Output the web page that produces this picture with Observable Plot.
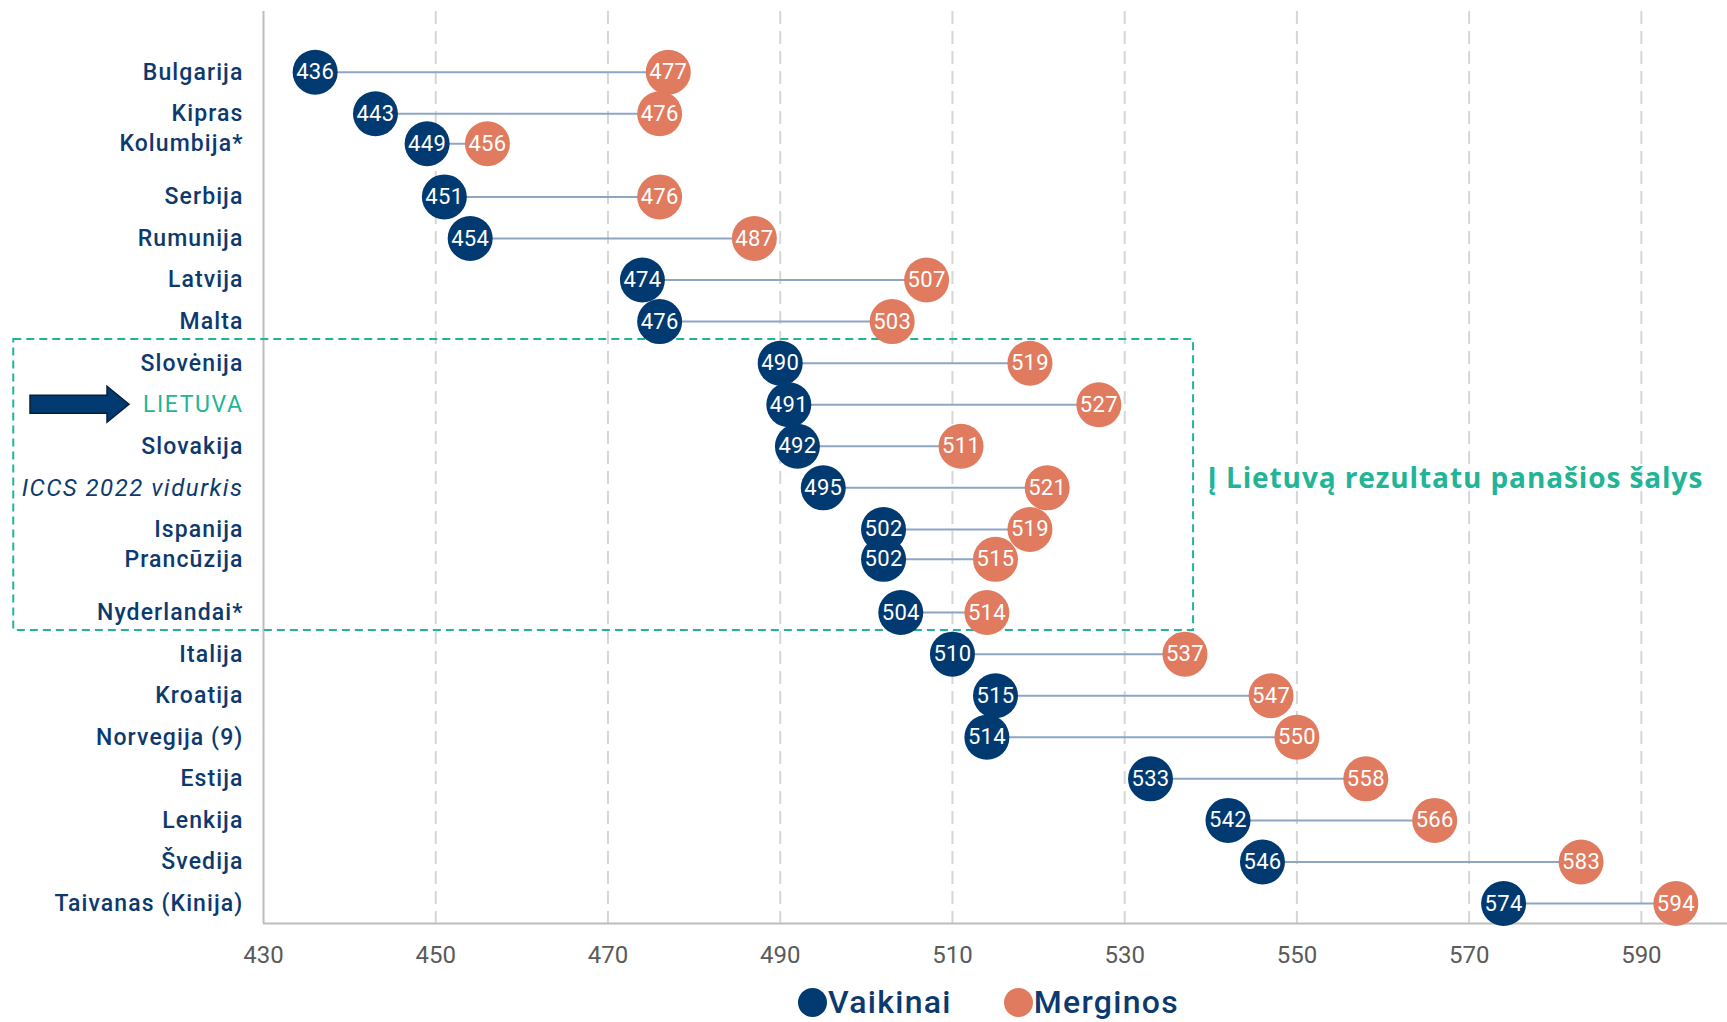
<!DOCTYPE html>
<html>
<head>
<meta charset="utf-8">
<script src="https://cdn.jsdelivr.net/npm/d3@7"></script>
<script src="https://cdn.jsdelivr.net/npm/@observablehq/plot@0.6"></script>
<style>
  body { margin: 0; background: #fff; font-family: Roboto, "Noto Sans", sans-serif; }
  #chart svg { display: block; }
  #legend { display: flex; justify-content: center; align-items: center; padding-left: 250px; height: 44px; margin-top: 0px; }
  .item { display: flex; align-items: center; margin: 0 26px; font-size: 32px; font-weight: 500; color: #0d3a6e; letter-spacing: 1.3px; }
  .sw { width: 29px; height: 29px; border-radius: 50%; display: inline-block; margin-right: 1px; }
</style>
</head>
<body>
<div id="chart"></div>
<div id="legend"></div>
<script>
// ---- data ----
const countries = ["Bulgarija","Kipras","Kolumbija*","Serbija","Rumunija","Latvija","Malta","Slovėnija","LIETUVA","Slovakija","ICCS 2022 vidurkis","Ispanija","Prancūzija","Nyderlandai*","Italija","Kroatija","Norvegija (9)","Estija","Lenkija","Švedija","Taivanas (Kinija)"];
const rows = [0, 1, 1.72, 3, 4, 5, 6, 7, 8, 9, 10, 11, 11.72, 13, 14, 15, 16, 17, 18, 19, 20];
const boys  = [436, 443, 449, 451, 454, 474, 476, 490, 491, 492, 495, 502, 502, 504, 510, 515, 514, 533, 542, 546, 574];
const girls = [477, 476, 456, 476, 487, 507, 503, 519, 527, 511, 521, 519, 515, 514, 537, 547, 550, 558, 566, 583, 594];
const tickValues = [430, 450, 470, 490, 510, 530, 550, 570, 590];
const seriesNames = ["Vaikinai", "Merginos"];
const highlightFirst = "Slovėnija";
const highlightLast = "Nyderlandai*";
const highlightLabel = "Į Lietuvą rezultatu panašios šalys";
const focusCountry = "LIETUVA";
const averageLabel = "ICCS 2022 vidurkis";

// ---- styles ----
const navy = "#003a70";
const orange = "#e07b5f";
const teal = "#22b497";
const labelColor = "#0d3a6e";

const data = countries.map((c, i) => ({country: c, row: rows[i], boys: boys[i], girls: girls[i]}));
const rowOf = name => rows[countries.indexOf(name)];
const yDomain = [-1.46, 20.48];
const box = [{x1: 401, x2: 538, y1: rowOf(highlightFirst) - 0.57, y2: rowOf(highlightLast) + 0.43}];

function arrowMark(index, scales, values, dimensions) {
  const y = scales.y(rowOf(focusCountry));
  const x0 = 30, xs = 107, xt = 129, hs = 9, hh = 18;
  const p = d3.create("svg:path")
    .attr("d", `M${x0},${y - hs}H${xs}V${y - hh}L${xt},${y}L${xs},${y + hh}V${y + hs}H${x0}Z`)
    .attr("fill", navy)
    .attr("stroke", "#0b1e38")
    .attr("stroke-width", 1.5);
  return p.node();
}

const chart = Plot.plot({
  width: 1727,
  height: 980,
  marginTop: 11,
  marginBottom: 57,
  marginLeft: 263,
  marginRight: 0,
  style: {fontFamily: "Roboto, sans-serif", fontSize: "24px", color: "#5a5a5a", background: "#fff"},
  x: {domain: [430, 600], ticks: tickValues, tickSize: 0, tickPadding: 22, label: null, tickFormat: d => String(d)},
  y: {domain: yDomain, reverse: true, axis: null},
  marks: [
    Plot.ruleX(tickValues.filter(t => t > 430), {stroke: "#d6d6d6", strokeWidth: 2, strokeDasharray: "13,7"}),
    Plot.ruleX([430], {stroke: "#bdbdbd", strokeWidth: 2}),
    Plot.ruleY([yDomain[1]], {stroke: "#bdbdbd", strokeWidth: 2}),
    Plot.rect(box, {x1: "x1", x2: "x2", y1: "y1", y2: "y2", fill: "none", stroke: teal, strokeWidth: 2, strokeDasharray: "8,5"}),
    Plot.text([highlightLabel], {x: box[0].x2, y: (box[0].y1 + box[0].y2) / 2 - 0.15, text: d => d, textAnchor: "start", dx: 14, fill: teal, fontSize: 28, fontWeight: "bold", fontFamily: "'Open Sans', sans-serif", ariaDescription: "note"}),
    Plot.link(data, {x1: "boys", x2: "girls", y1: "row", y2: "row", stroke: "#8ea6c4", strokeWidth: 2}),
    Plot.dot(data, {x: "boys", y: "row", r: 22.5, fill: navy}),
    Plot.dot(data, {x: "girls", y: "row", r: 22.5, fill: orange}),
    Plot.text(data, {x: "boys", y: "row", text: d => String(d.boys), fill: "white", fontSize: 22, ariaDescription: "values"}),
    Plot.text(data, {x: "girls", y: "row", text: d => String(d.girls), fill: "white", fontSize: 22, ariaDescription: "values"}),
    Plot.text(data.filter(d => d.country !== focusCountry && d.country !== averageLabel), {y: "row", text: "country", frameAnchor: "left", textAnchor: "end", dx: -20, fill: labelColor, fontSize: 23, fontWeight: 500, ariaDescription: "country labels"}),
    Plot.text(data.filter(d => d.country === focusCountry), {y: "row", text: "country", frameAnchor: "left", textAnchor: "end", dx: -20, fill: teal, fontSize: 23, fontWeight: 400, ariaDescription: "focus label"}),
    Plot.text(data.filter(d => d.country === averageLabel), {y: "row", text: "country", frameAnchor: "left", textAnchor: "end", dx: -20, fill: labelColor, fontSize: 24, fontStyle: "italic", ariaDescription: "average label"}),
    arrowMark
  ]
});
const svg = d3.select(chart);
const spacing = {"country labels": 1.1, "focus label": 1.6, "average label": 1.5, "note": 0.9, "values": 0.3};
svg.selectAll("g").each(function () {
  const desc = this.getAttribute("aria-description");
  if (desc && spacing[desc] !== undefined) {
    d3.select(this).attr("letter-spacing", spacing[desc]).selectAll("text").attr("letter-spacing", spacing[desc]);
  }
});
document.getElementById("chart").appendChild(chart);

const legend = document.getElementById("legend");
[navy, orange].forEach((c, i) => {
  const item = document.createElement("div");
  item.className = "item";
  item.innerHTML = `<span class="sw" style="background:${c}"></span>${seriesNames[i]}`;
  legend.appendChild(item);
});
</script>
</body>
</html>
